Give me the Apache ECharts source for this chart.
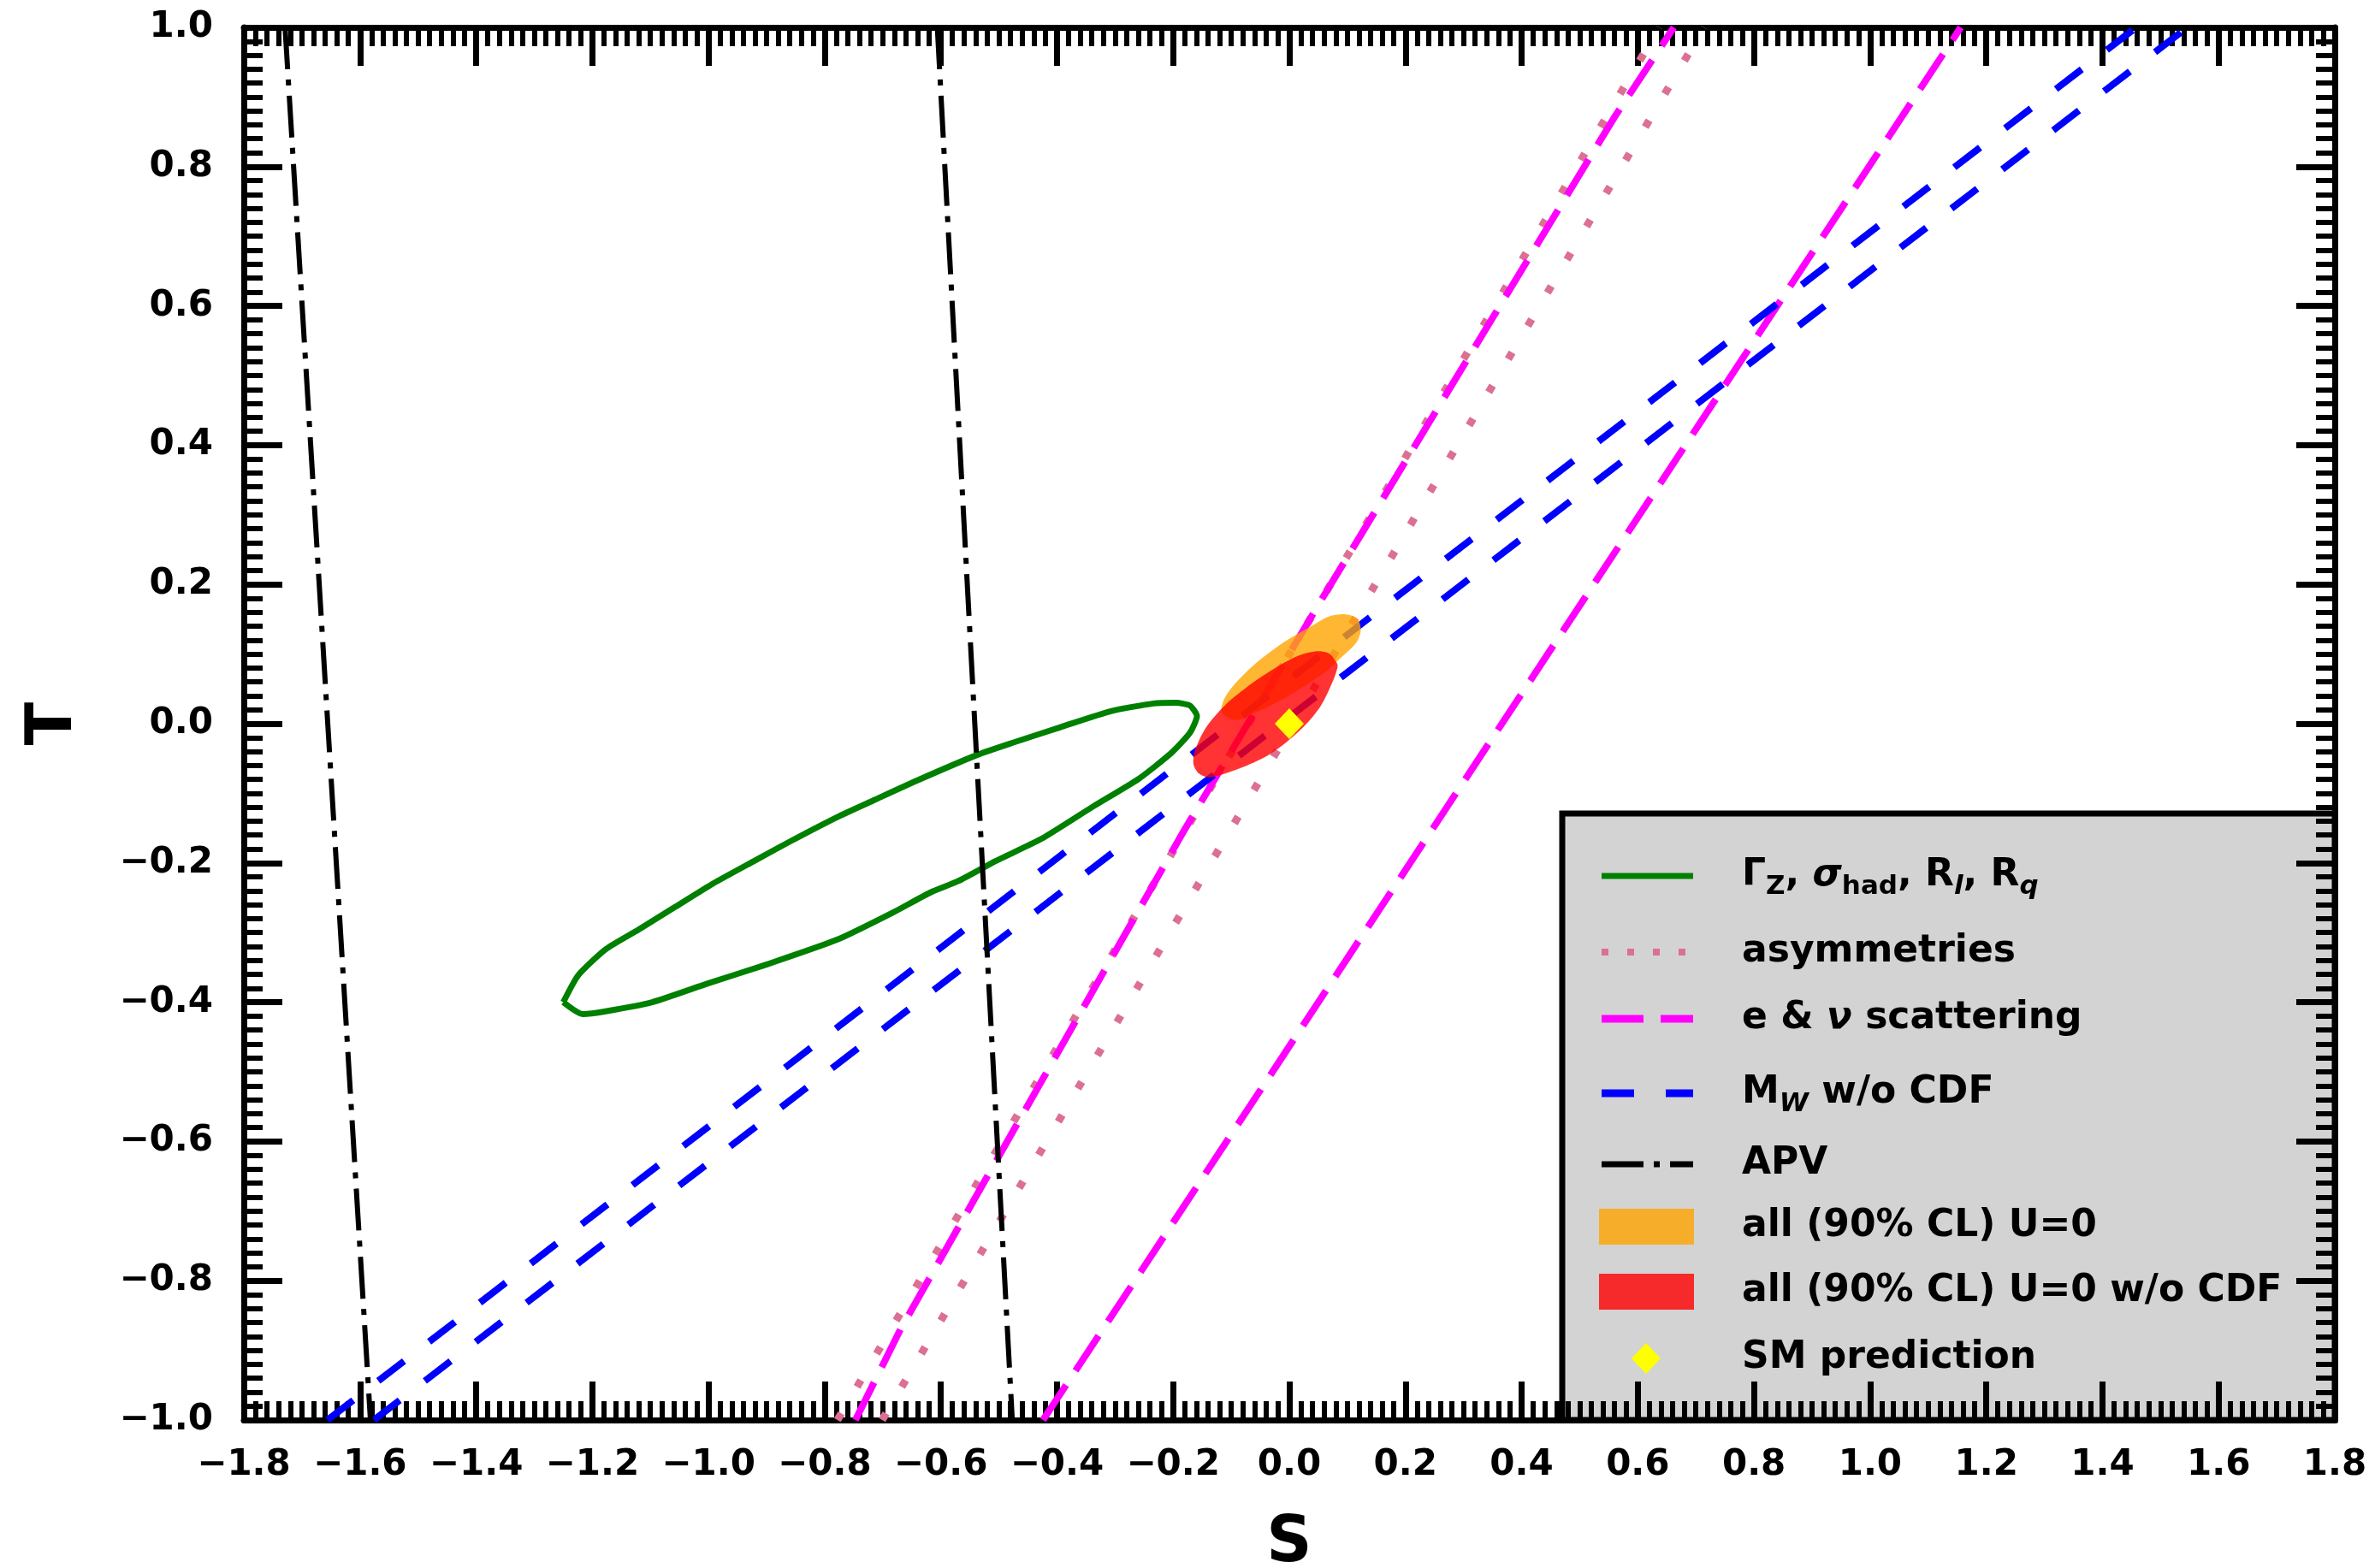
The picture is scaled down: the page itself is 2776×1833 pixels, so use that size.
<!DOCTYPE html>
<html><head><meta charset="utf-8">
<script src="https://cdn.jsdelivr.net/npm/echarts@6.0.0/dist/echarts.min.js"></script>
<style>html,body{margin:0;padding:0;background:#fff}#c{width:2776px;height:1833px}</style>
</head><body><div id="c"></div>
<script>
// ---------- data ----------
const greenS = [-1.250,-1.217,-1.177,-1.097,-1.001,-0.897,-0.778,-0.682,-0.617,-0.570,-0.505,-0.426,-0.338,-0.259,-0.203,-0.171,-0.159,-0.171,-0.195,-0.234,-0.307,-0.394,-0.475,-0.538,-0.642,-0.713,-0.778,-0.857,-0.921,-0.993,-1.057,-1.121,-1.177,-1.224,-1.250];
const greenT = [-0.400,-0.417,-0.413,-0.400,-0.373,-0.345,-0.310,-0.271,-0.242,-0.226,-0.197,-0.165,-0.119,-0.079,-0.042,-0.013,0.011,0.026,0.030,0.029,0.018,-0.005,-0.027,-0.045,-0.082,-0.109,-0.134,-0.168,-0.197,-0.230,-0.263,-0.296,-0.324,-0.361,-0.400];

const asymAS = [-0.778, 0.637], asymAT = [-1.0, 1.0];
const asymBS = [-0.701, 0.714], asymBT = [-1.0, 1.0];

const enuAS = [-0.747,-0.669,-0.183,0.059,0.559,0.662];
const enuAT = [-1.0,-0.869,-0.156,0.183,0.870,1.0];
const enuBS = [-0.424, 1.156], enuBT = [-1.0, 1.0];

const mwAS = [-1.656, 1.458], mwAT = [-1.0, 1.0];
const mwBS = [-1.576, 1.546], mwBT = [-1.0, 1.0];

const apvAS = [-1.729, -1.582], apvAT = [1.0, -1.0];
const apvBS = [-0.606, -0.477], apvBT = [1.0, -1.0];

const orangeS = [0.117,0.097,0.068,0.038,-0.011,-0.060,-0.099,-0.114,-0.116,-0.094,-0.060,-0.030,0.011,0.060,0.092,0.115,0.123];
const orangeT = [0.151,0.157,0.154,0.140,0.116,0.085,0.052,0.032,0.016,0.005,0.015,0.027,0.046,0.073,0.097,0.116,0.134];

const redS = [0.082,0.068,0.048,0.014,-0.030,-0.074,-0.109,-0.143,-0.162,-0.165,-0.155,-0.136,-0.079,-0.030,0.019,0.053,0.075,0.083];
const redT = [0.087,0.101,0.104,0.097,0.077,0.052,0.028,-0.005,-0.038,-0.058,-0.072,-0.077,-0.062,-0.042,-0.009,0.024,0.061,0.081];

const smPoint = [[0.0, 0.0]];

const xMin = -1.8, xMax = 1.8, yMin = -1.0, yMax = 1.0, tickStep = 0.2;

const legendLabels = [
  '{n|Γ}{s|Z}{n|, }{ni|σ}{s|had}{n|, R}{si|l}{n|, R}{si|q}',
  '{n|asymmetries}',
  '{n|e & }{ni|ν}{n| scattering}',
  '{n|M}{si|W}{n| w/o CDF}',
  '{n|APV}',
  '{n|all (90% CL) U=0}',
  '{n|all (90% CL) U=0 w/o CDF}',
  '{n|SM prediction}'
];

// ---------- helpers ----------
const zip = (a, b) => a.map((v, i) => [v, b[i]]);
const FONT = 'DejaVu Sans';
const fmt = v => (v < -1e-9 ? '\u2212' : '') + Math.abs(v).toFixed(1);

function axisBase(isX, pos, showLabel) {
  return {
    type: 'value',
    position: pos,
    min: isX ? xMin : yMin,
    max: isX ? xMax : yMax,
    interval: tickStep,
    splitLine: { show: false },
    minorSplitLine: { show: false },
    axisLine: { show: true, onZero: false, lineStyle: { color: '#000', width: 7 } },
    axisTick: { show: true, inside: true, length: 45, lineStyle: { color: '#000', width: 7 } },
    minorTick: { show: true, splitNumber: 10, length: 22, lineStyle: { color: '#000', width: 6 } },
    axisLabel: {
      show: showLabel, interval: 0, showMinLabel: true, showMaxLabel: true, hideOverlap: false,
      formatter: fmt, color: '#000', fontFamily: FONT, fontWeight: 'bold', fontSize: 42,
      margin: isX ? 32 : 36
    }
  };
}

const xA = axisBase(true, 'bottom', true);
xA.name = 'S'; xA.nameLocation = 'middle'; xA.nameGap = 109; xA.nameMoveOverlap = false;
xA.nameTextStyle = { fontFamily: FONT, fontWeight: 'bold', fontSize: 74, color: '#000' };
const xB = axisBase(true, 'top', false);
const yA = axisBase(false, 'left', true);
yA.name = 'T'; yA.nameLocation = 'middle'; yA.nameGap = 184; yA.nameRotate = 90; yA.nameMoveOverlap = false;
yA.nameTextStyle = { fontFamily: FONT, fontWeight: 'bold', fontSize: 74, color: '#000' };
const yB = axisBase(false, 'right', false);

function lineSeries(name, data, color, width, dash, z, smooth) {
  return {
    name, type: 'line', data, showSymbol: false, symbol: 'none', animation: false, clip: true,
    smooth: smooth || false,
    lineStyle: { color, width, type: dash || 'solid', cap: 'butt', join: 'round' }, z: z || 2, silent: true
  };
}

function polySeries(name, S, T, fill, z) {
  return {
    name, type: 'custom', coordinateSystem: 'cartesian2d', data: [[S[0], T[0]]], clip: true, z, animation: false,
    renderItem: (params, api) => ({
      type: 'polygon',
      shape: { points: S.map((s, i) => api.coord([s, T[i]])), smooth: 0.3 },
      style: { fill }
    })
  };
}

const series = [
  lineSeries('Gamma', zip(greenS, greenT), '#008000', 7, 'solid', 2, 0.2),
  lineSeries('asymA', zip(asymAS, asymAT), '#DB7093', 9, [9, 36], 3),
  lineSeries('asymB', zip(asymBS, asymBT), '#DB7093', 9, [9, 36], 3),
  lineSeries('enuA', zip(enuAS, enuAT), '#FF00FF', 8, [49, 20], 4),
  lineSeries('enuB', zip(enuBS, enuBT), '#FF00FF', 8, [49, 20], 4),
  lineSeries('mwA', zip(mwAS, mwAT), '#0000FF', 8, [38, 37], 5),
  lineSeries('mwB', zip(mwBS, mwBT), '#0000FF', 8, [38, 37], 5),
  lineSeries('apvA', zip(apvAS, apvAT), '#000000', 6, [49, 12, 7, 12], 6),
  lineSeries('apvB', zip(apvBS, apvBT), '#000000', 6, [49, 12, 7, 12], 6),
  polySeries('all', orangeS, orangeT, 'rgba(255,165,0,0.8)', 7),
  polySeries('allNoCDF', redS, redT, 'rgba(255,0,0,0.8)', 8),
  {
    name: 'SM', type: 'scatter', data: smPoint, symbol: 'diamond', symbolSize: [34, 36],
    itemStyle: { color: '#FFFF00', opacity: 1 }, z: 50, animation: false, silent: true
  }
];

// ---------- legend (drawn as graphic) ----------
const LX0 = 1872, LX1 = 1979, LTX = 2036;
const rowY = [1024, 1113, 1191, 1278, 1361, 1434, 1510, 1588];
const rich = {
  n: { fontFamily: FONT, fontWeight: 'bold', fontSize: 44, lineHeight: 56, fill: '#000', verticalAlign: 'middle' },
  ni: { fontFamily: FONT, fontWeight: 'bold', fontStyle: 'italic', fontSize: 44, lineHeight: 56, fill: '#000', verticalAlign: 'middle' },
  s: { fontFamily: FONT, fontWeight: 'bold', fontSize: 31, lineHeight: 31, fill: '#000', verticalAlign: 'bottom' },
  si: { fontFamily: FONT, fontWeight: 'bold', fontStyle: 'italic', fontSize: 31, lineHeight: 31, fill: '#000', verticalAlign: 'bottom' }
};
const hLine = (y, color, w, dash) => ({
  type: 'line', shape: { x1: LX0, y1: y, x2: LX1, y2: y },
  style: { stroke: color, lineWidth: w, lineDash: dash || null, lineCap: 'butt' }
});
const graphicEls = [
  { type: 'rect', shape: { x: 1826, y: 951, width: 903, height: 709 }, style: { fill: '#d3d3d3', stroke: '#000', lineWidth: 7 } },
  hLine(rowY[0], '#008000', 7),
  hLine(rowY[1], '#DB7093', 8, [8, 22]),
  hLine(rowY[2], '#FF00FF', 9, [49, 20]),
  hLine(rowY[3], '#0000FF', 9, [38, 37]),
  hLine(rowY[4], '#000000', 7, [49, 12, 7, 12]),
  { type: 'rect', shape: { x: LX0 - 3, y: rowY[5] - 21, width: 111, height: 42 }, style: { fill: 'rgba(255,165,0,0.8)' } },
  { type: 'rect', shape: { x: LX0 - 3, y: rowY[6] - 21, width: 111, height: 42 }, style: { fill: 'rgba(255,0,0,0.8)' } },
  { type: 'polygon', shape: { points: [[1924, rowY[7] - 18], [1941, rowY[7]], [1924, rowY[7] + 18], [1907, rowY[7]]] }, style: { fill: '#FFFF00' } }
];
legendLabels.forEach((t, i) => {
  graphicEls.push({
    type: 'text', x: LTX, y: rowY[i],
    style: { text: t, rich, fill: '#000', align: 'left', verticalAlign: 'middle', fontFamily: FONT, fontWeight: 'bold', fontSize: 44 }
  });
});

const chart = echarts.init(document.getElementById('c'), null, { renderer: 'canvas', width: 2776, height: 1833 });
chart.setOption({
  backgroundColor: '#ffffff',
  animation: false,
  grid: { left: 285, top: 32, width: 2444, height: 1628, containLabel: false, outerBoundsMode: 'none', show: false },
  xAxis: [xA, xB],
  yAxis: [yA, yB],
  series,
  graphic: { elements: [{ type: 'group', z: 100, zlevel: 0, children: graphicEls }] }
});
</script>
</body></html>
